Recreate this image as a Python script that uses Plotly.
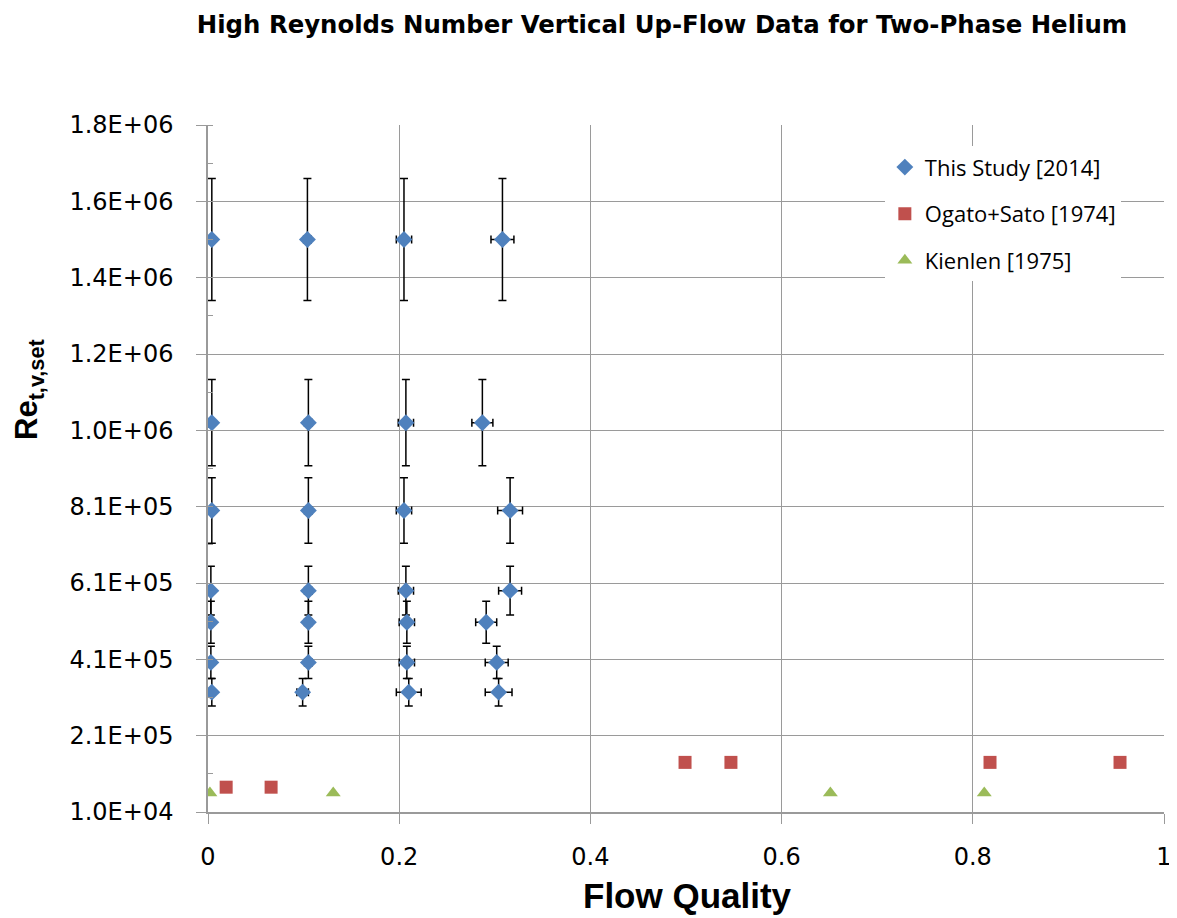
import plotly.graph_objects as go

# ---- data ----
study_x = [0.004, 0.104, 0.205, 0.308,
           0.004, 0.105, 0.207, 0.287,
           0.004, 0.105, 0.205, 0.316,
           0.003, 0.105, 0.207, 0.316,
           0.003, 0.105, 0.208, 0.291,
           0.003, 0.105, 0.208, 0.302,
           0.004, 0.099, 0.210, 0.304]
study_y = [1.51e6, 1.51e6, 1.51e6, 1.51e6,
           1.03e6, 1.03e6, 1.03e6, 1.03e6,
           8.0e5, 8.0e5, 8.0e5, 8.0e5,
           5.9e5, 5.9e5, 5.9e5, 5.9e5,
           5.07e5, 5.07e5, 5.07e5, 5.07e5,
           4.02e5, 4.02e5, 4.02e5, 4.02e5,
           3.24e5, 3.24e5, 3.24e5, 3.24e5]
study_xerr = [0.002, 0.004, 0.008, 0.012,
              0.002, 0.004, 0.008, 0.011,
              0.002, 0.004, 0.008, 0.013,
              0.002, 0.004, 0.008, 0.012,
              0.002, 0.004, 0.008, 0.011,
              0.002, 0.004, 0.008, 0.012,
              0.002, 0.006, 0.013, 0.014]
study_yerr = [1.6e5, 1.6e5, 1.6e5, 1.6e5,
              1.13e5, 1.13e5, 1.13e5, 1.13e5,
              8.6e4, 8.6e4, 8.6e4, 8.6e4,
              6.4e4, 6.4e4, 6.4e4, 6.4e4,
              5.5e4, 5.5e4, 5.5e4, 5.5e4,
              4.2e4, 4.2e4, 4.2e4, 4.2e4,
              3.6e4, 3.6e4, 3.6e4, 3.6e4]

ogato_x = [0.019, 0.066, 0.499, 0.547, 0.818, 0.954]
ogato_y = [7.5e4, 7.5e4, 1.4e5, 1.4e5, 1.4e5, 1.4e5]

kienlen_x = [0.002, 0.131, 0.651, 0.812]
kienlen_y = [6.0e4, 6.0e4, 6.0e4, 6.0e4]

y_tickvals = [1.0e4, 2.1e5, 4.1e5, 6.1e5, 8.1e5, 1.01e6, 1.21e6, 1.41e6, 1.61e6, 1.81e6]
y_ticktext = ["1.0E+04", "2.1E+05", "4.1E+05", "6.1E+05", "8.1E+05",
              "1.0E+06", "1.2E+06", "1.4E+06", "1.6E+06", "1.8E+06"]
x_tickvals = [0, 0.2, 0.4, 0.6, 0.8, 1.0]
x_ticktext = ["0", "0.2", "0.4", "0.6", "0.8", "1"]

BLUE = "#4F81BD"
RED = "#C0504D"
GREEN = "#9BBB59"
GRID = "#9a9a9a"

fig = go.Figure()
fig.add_trace(go.Scatter(
    x=study_x, y=study_y, mode="markers", name="This Study [2014]",
    legendgroup="a",
    marker=dict(symbol="diamond", size=13, color=BLUE),
    error_y=dict(type="data", array=study_yerr, color="black", thickness=1.5, width=4),
    error_x=dict(type="data", array=study_xerr, color="black", thickness=1.5, width=4),
))
fig.add_trace(go.Scatter(
    x=ogato_x, y=ogato_y, mode="markers", name="Ogato+Sato [1974]",
    legendgroup="b",
    marker=dict(symbol="square", size=13, color=RED),
))
fig.add_trace(go.Scatter(
    x=kienlen_x, y=kienlen_y, mode="markers", name="Kienlen [1975]",
    legendgroup="c",
    marker=dict(symbol="triangle-up", size=13, color=GREEN),
))

fig.update_layout(
    width=1177, height=918,
    margin=dict(l=200, r=21, t=117, b=114),
    plot_bgcolor="white", paper_bgcolor="white",
    title=dict(text="<b>High Reynolds Number Vertical Up-Flow Data for Two-Phase Helium</b>",
               x=654 / 1177, xanchor="center", xref="container",
               y=1 - 16 / 918, yanchor="middle", yref="container",
               font=dict(family="DejaVu Sans", size=24.4, color="black")),
    legend=dict(x=0.708, y=0.969, xanchor="left", yanchor="top",
                bgcolor="white", borderwidth=0, tracegroupgap=15,
                font=dict(family="Open Sans, Lato, sans-serif", size=22, color="black")),
    showlegend=True,
)
fig.update_xaxes(
    range=[0, 1], tickvals=x_tickvals, ticktext=x_ticktext,
    showgrid=True, gridcolor=GRID, gridwidth=1,
    showline=True, linecolor=GRID, linewidth=1.5, zeroline=False,
    ticks="outside", ticklen=10, tickcolor=GRID, ticklabelstandoff=12,
    tickfont=dict(family="DejaVu Sans", size=24, color="black"),
)
fig.update_yaxes(
    range=[1.0e4, 1.81e6], tickvals=y_tickvals, ticktext=y_ticktext,
    showgrid=True, gridcolor=GRID, gridwidth=1,
    showline=True, linecolor=GRID, linewidth=1.5, zeroline=False,
    ticks="outside", ticklen=10, tickcolor=GRID, ticklabelstandoff=18,
    tickfont=dict(family="DejaVu Sans", size=24, color="black"),
    minor=dict(ticks="inside", ticklen=5, tickcolor=GRID, dtick=1.0e5, tick0=1.0e4, showgrid=False),
)
# x-axis title
fig.add_annotation(
    text="<b>Flow Quality</b>",
    xref="paper", yref="paper", x=(679.5 - 200) / 956, y=(804 - 887) / 687,
    xanchor="center", yanchor="middle", showarrow=False,
    font=dict(family="Liberation Sans, Arial", size=35, color="black"),
)
# y-axis title
fig.add_annotation(
    text="<b>Re<sub>t,v,set</sub></b>", textangle=-90,
    xref="paper", yref="paper", x=(21 - 200) / 956, y=(804 - 382) / 687,
    xanchor="center", yanchor="middle", showarrow=False,
    font=dict(family="Liberation Sans, Arial", size=31, color="black"),
)

fig.write_html("out.html")
